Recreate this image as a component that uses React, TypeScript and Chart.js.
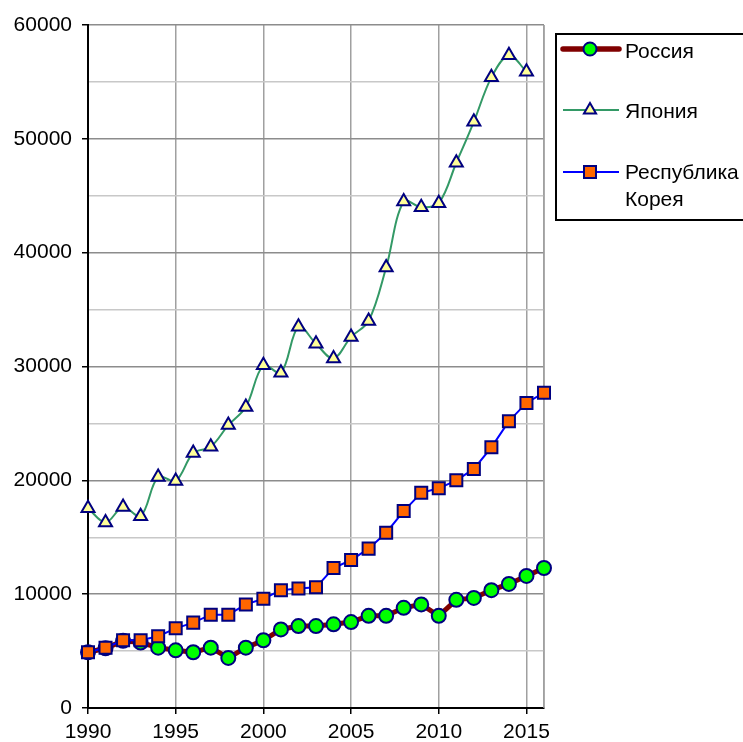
import React, { useEffect, useRef } from "react";
import { Chart, registerables } from "chart.js";

Chart.register(...registerables);

const years = [1990, 1991, 1992, 1993, 1994, 1995, 1996, 1997, 1998, 1999, 2000, 2001, 2002, 2003, 2004, 2005, 2006, 2007, 2008, 2009, 2010, 2011, 2012, 2013, 2014, 2015, 2016];
const russia = [4900, 5250, 5900, 5750, 5300, 5070, 4900, 5300, 4400, 5300, 5950, 6900, 7200, 7200, 7350, 7550, 8100, 8100, 8800, 9100, 8100, 9500, 9670, 10350, 10900, 11600, 12300];
const japan = [17550, 16300, 17650, 16850, 20300, 19950, 22400, 22950, 24850, 26450, 30100, 29450, 33500, 32000, 30700, 32600, 34000, 38700, 44500, 44000, 44350, 47900, 51500, 55400, 57350, 55900];
const korea = [4900, 5300, 5950, 5950, 6300, 7000, 7500, 8200, 8200, 9100, 9600, 10350, 10500, 10600, 12300, 13000, 14000, 15400, 17300, 18900, 19300, 20000, 21000, 22900, 25200, 26800, 27700];
const xTicks = [1990, 1995, 2000, 2005, 2010, 2015, 2016];
const yTicks = [0, 5000, 10000, 15000, 20000, 25000, 30000, 35000, 40000, 45000, 50000, 55000, 60000];
const seriesNames = ["Россия", "Япония", "Республика\nКорея"];

const FONT = "'Liberation Sans', Arial, sans-serif";
const FS = 21;

const legendPlugin = {
  id: "customLegend",
  afterDraw(chart: any) {
    const ctx = chart.ctx;
    ctx.save();
    ctx.strokeStyle = "#000";
    ctx.lineWidth = 2;
    ctx.strokeRect(556, 34, 260, 186);
    ctx.font = `${FS}px ${FONT}`;
    ctx.fillStyle = "#000";
    ctx.textBaseline = "middle";
    ctx.textAlign = "left";
    // Russia
    ctx.strokeStyle = "#800000";
    ctx.lineWidth = 5.5;
    ctx.lineCap = "round";
    ctx.beginPath();
    ctx.moveTo(563, 49);
    ctx.lineTo(619, 49);
    ctx.stroke();
    ctx.lineCap = "butt";
    ctx.beginPath();
    ctx.arc(590, 49, 6.5, 0, Math.PI * 2);
    ctx.fillStyle = "#00ff00";
    ctx.fill();
    ctx.strokeStyle = "#000080";
    ctx.lineWidth = 2;
    ctx.stroke();
    ctx.fillStyle = "#000";
    ctx.fillText(seriesNames[0], 625, 52);
    // Japan
    ctx.strokeStyle = "#339966";
    ctx.lineWidth = 2;
    ctx.beginPath();
    ctx.moveTo(563, 110);
    ctx.lineTo(619, 110);
    ctx.stroke();
    const r = 7;
    ctx.beginPath();
    ctx.moveTo(590, 110 - r);
    ctx.lineTo(590 + r * Math.sin((2 * Math.PI) / 3), 110 - r * Math.cos((2 * Math.PI) / 3));
    ctx.lineTo(590 + r * Math.sin((4 * Math.PI) / 3), 110 - r * Math.cos((4 * Math.PI) / 3));
    ctx.closePath();
    ctx.fillStyle = "#ffff99";
    ctx.fill();
    ctx.strokeStyle = "#000080";
    ctx.stroke();
    ctx.fillStyle = "#000";
    ctx.fillText(seriesNames[1], 625, 112);
    // Korea
    ctx.strokeStyle = "#0000ff";
    ctx.lineWidth = 2;
    ctx.beginPath();
    ctx.moveTo(563, 172);
    ctx.lineTo(619, 172);
    ctx.stroke();
    ctx.fillStyle = "#ff6600";
    ctx.fillRect(584, 166, 12, 12);
    ctx.strokeStyle = "#000080";
    ctx.strokeRect(584, 166, 12, 12);
    ctx.fillStyle = "#000";
    const lines = seriesNames[2].split("\n");
    ctx.fillText(lines[0], 625, 173);
    ctx.fillText(lines[1], 625, 200);
    ctx.restore();
  },
};

export default function App() {
  const ref = useRef<HTMLCanvasElement>(null);
  useEffect(() => {
    if (!ref.current) return;
    const chart = new Chart(ref.current, {
      type: "line",
      data: {
        datasets: [
          {
            label: seriesNames[0],
            data: years.map((x, i) => ({ x, y: russia[i] })),
            borderColor: "#800000",
            borderWidth: 5,
            pointStyle: "circle",
            pointRadius: 7,
            pointBackgroundColor: "#00ff00",
            pointBorderColor: "#000080",
            pointBorderWidth: 2,
            tension: 0,
            clip: false,
            order: 2,
          } as any,
          {
            label: seriesNames[1],
            data: japan.map((y, i) => ({ x: years[i], y })),
            borderColor: "#339966",
            borderWidth: 2,
            pointStyle: "triangle",
            pointRadius: 7.5,
            pointBackgroundColor: "#ffff99",
            pointBorderColor: "#000080",
            pointBorderWidth: 2,
            tension: 0.35,
            clip: false,
            order: 1,
          } as any,
          {
            label: seriesNames[2],
            data: years.map((x, i) => ({ x, y: korea[i] })),
            borderColor: "#0000ff",
            borderWidth: 2,
            pointStyle: "rect",
            pointRadius: 8.5,
            pointBackgroundColor: "#ff6600",
            pointBorderColor: "#000080",
            pointBorderWidth: 2,
            tension: 0,
            clip: false,
            order: 0,
          } as any,
        ],
      },
      options: {
        animation: false,
        responsive: false,
        devicePixelRatio: 1,
        layout: { padding: { left: 0, top: 25, right: 199, bottom: 0 } },
        plugins: { legend: { display: false }, tooltip: { enabled: false } },
        scales: {
          x: {
            type: "linear",
            min: 1990,
            max: 2016,
            afterBuildTicks: (scale: any) => {
              scale.ticks = xTicks.map((v) => ({ value: v }));
            },
            afterFit: (scale: any) => {
              scale.height = 34;
            },
            ticks: {
              autoSkip: false,
              maxRotation: 0,
              padding: 6,
              color: "#000",
              font: { family: FONT, size: FS },
              callback: (v: any) => (v === 2016 ? "" : String(v)),
            },
            grid: {
              color: "#a0a0a0",
              lineWidth: 1.5,
              tickLength: 6,
              tickColor: (c: any) => (c.tick && c.tick.value === 2016 ? "rgba(0,0,0,0)" : "#000"),
            },
            border: { color: "#000", width: 2 },
          },
          y: {
            type: "linear",
            min: 0,
            max: 60000,
            afterBuildTicks: (scale: any) => {
              scale.ticks = yTicks.map((v) => ({ value: v }));
            },
            afterFit: (scale: any) => {
              scale.width = 88;
            },
            ticks: {
              autoSkip: false,
              padding: 10,
              color: "#000",
              font: { family: FONT, size: FS },
              callback: (v: any) => (v % 10000 === 0 ? String(v) : ""),
            },
            grid: {
              color: (c: any) => (c.tick && c.tick.value % 10000 === 0 ? "#8c8c8c" : "#c8c8c8"),
              lineWidth: 1.5,
              tickLength: 6,
              tickColor: (c: any) => (c.tick && c.tick.value % 10000 === 0 ? "#000" : "rgba(0,0,0,0)"),
            },
            border: { color: "#000", width: 2 },
          },
        },
      },
      plugins: [
        {
          id: "rightBorder",
          beforeDatasetsDraw(chart: any) {
            const { ctx, chartArea } = chart;
            ctx.save();
            ctx.strokeStyle = "#a0a0a0";
            ctx.lineWidth = 1.5;
            ctx.beginPath();
            ctx.moveTo(chartArea.right, chartArea.top);
            ctx.lineTo(chartArea.right, chartArea.bottom);
            ctx.stroke();
            ctx.restore();
          },
        },
        legendPlugin,
      ],
    } as any);
    return () => chart.destroy();
  }, []);
  return (
    <div style={{ position: "absolute", left: 0, top: 0, width: 743, height: 742 }}>
      <canvas ref={ref} width={743} height={742} />
    </div>
  );
}
